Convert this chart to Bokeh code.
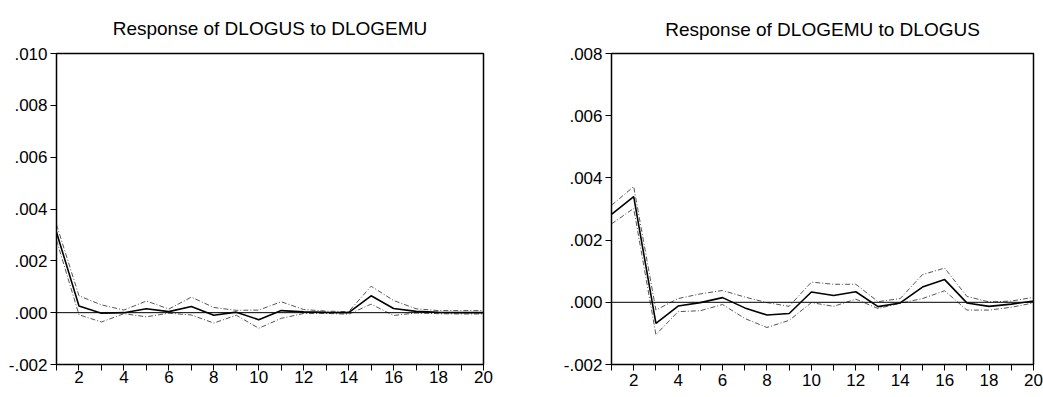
from bokeh.plotting import figure
from bokeh.layouts import row
from bokeh.models import FixedTicker, CustomJSTickFormatter, Span, Range1d
from bokeh.embed import file_html
from bokeh.resources import INLINE

steps = list(range(1, 21))

us_resp = [0.0031, 0.00026, -0.00002, 0.0, 0.00015, 0.00004, 0.00024, -0.0001, 0.00002, -0.00027,
           0.00008, 0.00003, 0.00001, 0.0, 0.00065, 0.00016, 0.00005, 0.00001, 0.0, 0.0]
us_upper = [0.0034, 0.00065, 0.0003, 0.0001, 0.00045, 0.00014, 0.0006, 0.0002, 0.00009, 0.0001,
            0.00042, 0.00012, 0.00006, 0.00004, 0.00102, 0.00047, 0.00015, 0.00008, 0.00008, 0.00008]
us_lower = [0.0028, -0.00008, -0.00036, -0.00004, -0.00016, -0.00002, -0.00009, -0.0004, -0.0001, -0.0006,
            -0.00022, -0.00003, -0.00003, -0.00006, 0.00033, -0.00011, -0.00001, -0.00004, -0.00005, -0.00005]

emu_resp = [0.00283, 0.0034, -0.00068, -0.00012, -0.00001, 0.00015, -0.00018, -0.00041, -0.00036, 0.00033,
            0.00022, 0.00034, -0.00014, -0.00002, 0.00049, 0.00073, -0.00002, -0.00013, -0.00006, 0.00004]
emu_upper = [0.00312, 0.00372, -0.00025, 0.00012, 0.00027, 0.00038, 0.00017, -0.00001, -0.00013, 0.00065,
             0.00058, 0.00058, 0.00002, 0.00012, 0.00089, 0.0011, 0.00019, 0.00001, 0.00004, 0.00016]
emu_lower = [0.00252, 0.00302, -0.00104, -0.0003, -0.00027, -0.00007, -0.00052, -0.00081, -0.00058, -0.00001,
             -0.00013, 0.0001, -0.0002, -0.00003, 0.00012, 0.00037, -0.00025, -0.00025, -0.00016, -0.00002]

titles = ["Response of DLOGUS to DLOGEMU", "Response of DLOGEMU to DLOGUS"]
left_yticks = [-0.002, 0.0, 0.002, 0.004, 0.006, 0.008, 0.010]
right_yticks = [-0.002, 0.0, 0.002, 0.004, 0.006, 0.008]
x_major = [2, 4, 6, 8, 10, 12, 14, 16, 18, 20]
x_minor = [1, 3, 5, 7, 9, 11, 13, 15, 17, 19]

FONT = "Liberation Sans"

fmt = CustomJSTickFormatter(code="""
var v = Math.abs(tick) < 1e-12 ? 0 : tick;
var s = v.toFixed(3);
return s.replace('0.', '.');
""")


def make_panel(title, resp, upper, lower, ymin, ymax, yticks, width, height, bl, br, bt, bb,
               standoff, xstandoff):
    p = figure(width=width, height=height, output_backend="svg", toolbar_location=None,
               x_range=Range1d(1, 20), y_range=Range1d(ymin, ymax),
               min_border_left=bl, min_border_right=br, min_border_top=bt, min_border_bottom=bb)
    p.title.text = title
    p.title.text_font = FONT
    p.title.text_font_size = "19px"
    p.title.text_font_style = "normal"
    p.title.align = "center"
    p.title.text_color = "black"
    p.title.standoff = standoff
    p.xgrid.visible = False
    p.ygrid.visible = False
    p.outline_line_color = "black"
    p.outline_line_width = 1.5
    p.background_fill_color = "white"
    p.border_fill_color = "white"

    p.xaxis.ticker = FixedTicker(ticks=x_major, minor_ticks=x_minor)
    p.yaxis.ticker = FixedTicker(ticks=yticks, minor_ticks=[])
    p.yaxis.formatter = fmt
    for ax in (p.xaxis, p.yaxis):
        ax.axis_line_color = "black"
        ax.axis_line_width = 1
        ax.major_tick_line_color = "black"
        ax.minor_tick_line_color = "black"
        ax.major_tick_in = 0
        ax.minor_tick_in = 0
        ax.major_tick_out = 6
        ax.minor_tick_out = 6
        ax.major_label_text_font = FONT
        ax.major_label_text_color = "black"
    p.xaxis.major_label_text_font_size = "17px"
    p.yaxis.major_label_text_font_size = "17px"
    p.xaxis.major_label_standoff = xstandoff
    p.yaxis.major_label_standoff = 3

    p.add_layout(Span(location=0, dimension="width", line_color="black", line_width=1))
    p.line(steps, upper, line_color="#555555", line_width=1, line_dash="5 2 1 2")
    p.line(steps, lower, line_color="#555555", line_width=1, line_dash="5 2 1 2")
    p.line(steps, resp, line_color="black", line_width=1.6)
    return p


p1 = make_panel(titles[0], us_resp, us_upper, us_lower, -0.002, 0.010, left_yticks,
                520, 397, 56, 37, 52, 27, 30, 0)
p2 = make_panel(titles[1], emu_resp, emu_upper, emu_lower, -0.002, 0.008, right_yticks,
                523, 397, 91, 10, 48, 33, 27, 3)

layout = row(p1, p2, spacing=0)
open("out.html", "w").write(file_html(layout, INLINE))
